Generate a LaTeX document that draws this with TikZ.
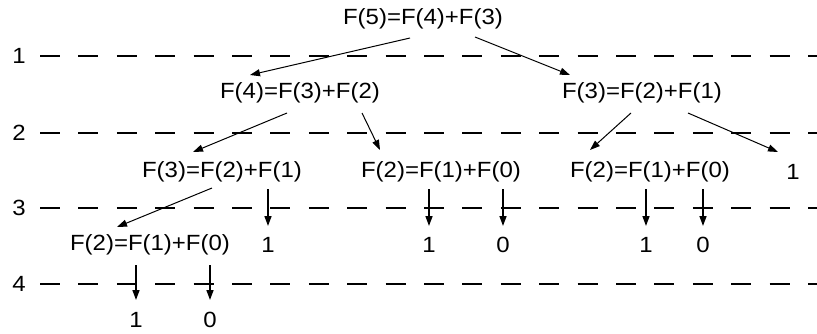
\documentclass[tikz,border=0pt]{standalone}
\usepackage{fontspec}
\setmainfont{Liberation Sans}[FakeStretch=1.09]
\usetikzlibrary{arrows.meta,calc}
\tikzset{
  term/.style={inner sep=0pt,font=\fontsize{22}{26}\selectfont},
  arr/.style={line width=1pt,-{Triangle[length=10pt,width=7pt]}},
  down/.style={arr,line width=1.5pt},
  rowline/.style={line width=1.8pt,dash pattern=on 20pt off 18.4pt}
}
\begin{document}
\begin{tikzpicture}[x=1pt,y=-1pt]
            \useasboundingbox (0,0) rectangle (817,333);
            % levels
            \foreach \r/\y in {1/56,2/133,3/208,4/284}{
              \node[term] (lev\r) at (19,\y) {\r};
              \draw[rowline] (40,\y) -- (817,\y);
            }
            % calls
            \node[term] (root) at (423,19) {F(5)=F(4)+F(3)};
            \node[term] (f4l) at (300,93) {F(4)=F(3)+F(2)};
            \node[term] (f3r) at (642,93) {F(3)=F(2)+F(1)};
            \node[term] (f3l) at (222,172) {F(3)=F(2)+F(1)};
            \node[term] (f2m) at (441,172) {F(2)=F(1)+F(0)};
            \node[term] (f2r) at (650,172) {F(2)=F(1)+F(0)};
            \node[term] (oner) at (793,172) {1};
            \node[term] (f2l) at (150,245) {F(2)=F(1)+F(0)};
            \node[term] (onel) at (268,245) {1};
            \node[term] (onem) at (429,245) {1};
            \node[term] (zerom) at (503,245) {0};
            \node[term] (onerr) at (646,245) {1};
            \node[term] (zeror) at (703,245) {0};
            \node[term] (oneb) at (136,320) {1};
            \node[term] (zerob) at (210,320) {0};
            % calls to calls
            \draw[arr] ($(root)+(-13,19)$) -- ($(f4l)+(-50,-18)$);
            \draw[arr] ($(root)+(52,18)$) -- ($(f3r)+(-72,-18)$);
            \draw[arr] ($(f4l)+(-13,20)$) -- ($(f3l)+(-29,-20)$);
            \draw[arr] ($(f4l)+(62,20)$) -- ($(f2m)+(-61,-22)$);
            \draw[arr] ($(f3r)+(-11,20)$) -- ($(f2r)+(-60,-22)$);
            \draw[arr] ($(f3r)+(46,20)$) -- ($(oner)+(-15,-20)$);
            \draw[arr] ($(f3l)+(-10,16)$) -- ($(f2l)+(-33,-18)$);
            % calls to values
            \draw[down] ($(onel|-f3l)+(0,17)$) -- ($(onel)+(0,-19)$);
            \draw[down] ($(onem|-f2m)+(0,17)$) -- ($(onem)+(0,-19)$);
            \draw[down] ($(zerom|-f2m)+(0,17)$) -- ($(zerom)+(0,-19)$);
            \draw[down] ($(onerr|-f2r)+(0,17)$) -- ($(onerr)+(0,-19)$);
            \draw[down] ($(zeror|-f2r)+(0,17)$) -- ($(zeror)+(0,-19)$);
            \draw[down] ($(oneb|-f2l)+(0,20)$) -- ($(oneb)+(0,-20)$);
            \draw[down] ($(zerob|-f2l)+(0,20)$) -- ($(zerob)+(0,-20)$);
        \end{tikzpicture}
\end{document}
